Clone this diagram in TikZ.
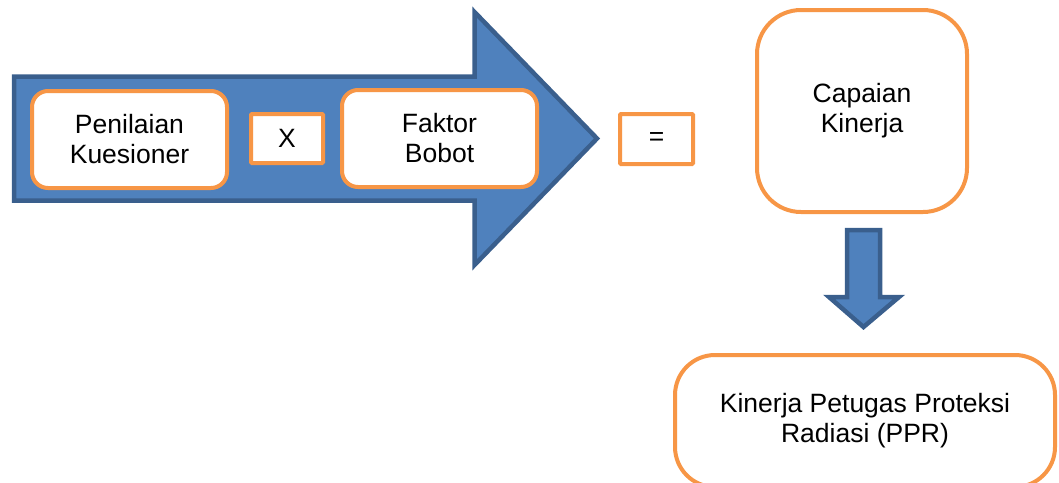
\documentclass[tikz,border=0pt]{standalone}
\usepackage{fontspec}
\setmainfont{Liberation Sans}
\definecolor{arrowfill}{HTML}{4F81BD}
\definecolor{arrowline}{HTML}{3A5F8D}
\definecolor{boxline}{HTML}{F79646}
\begin{document}
\begin{tikzpicture}[x=1pt,y=-1pt,
  txt/.style={font=\fontsize{26.5}{30}\selectfont, align=center, text=black},
  obox/.style={draw=boxline, line width=4pt, fill=white, inner sep=0pt, txt},
  bigarrow/.style={draw=arrowline, fill=arrowfill, line width=4.5pt, line join=miter}]
\useasboundingbox (0,0) rectangle (1059,482);
\clip (0,0) rectangle (1059,482);
% big right arrow
\draw[bigarrow] (14,76.5) -- (474.5,76.5) -- (474.5,12) -- (597,138.5) -- (474.5,265) -- (474.5,200.5) -- (14,200.5) -- cycle;
% boxes
\node[obox, rounded corners=16pt, minimum width=195pt, minimum height=97pt] (pen) at (129.5,139.5) {Penilaian\\Kuesioner};
\node[obox, rounded corners=1pt, minimum width=72pt, minimum height=49pt] (x) at (287,138.5) {\raisebox{-3.5pt}{X}};
\node[obox, rounded corners=16pt, minimum width=195pt, minimum height=97pt] (fak) at (439.5,138.5) {Faktor\\Bobot};
\node[obox, rounded corners=1pt, minimum width=73pt, minimum height=50pt] (eq) at (656.5,139) {\raisebox{-8pt}{=}};
\node[obox, rounded corners=44pt, minimum width=210pt, minimum height=202pt] (cap) at (862,111) {Capaian\\Kinerja};
\node[obox, rounded corners=40pt, minimum width=380pt, minimum height=132pt] (ppr) at (865,421) {Kinerja Petugas Proteksi\\Radiasi (PPR)};
% down arrow from cap to ppr
\draw[bigarrow] (847,230) -- (880,230) -- (880,297) -- (899,297) -- (863.5,327) -- (829,297) -- (847,297) -- cycle;
\end{tikzpicture}
\end{document}
